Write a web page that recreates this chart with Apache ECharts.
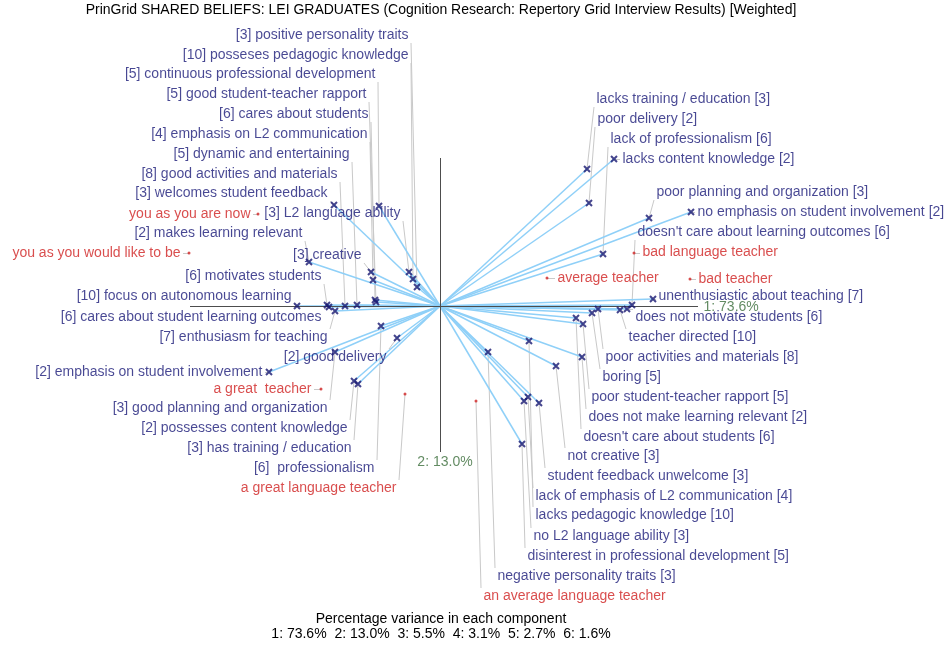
<!DOCTYPE html>
<html>
<head>
<meta charset="utf-8">
<script src="https://cdn.jsdelivr.net/npm/echarts@6/dist/echarts.min.js"></script>
<style>
html, body { margin: 0; padding: 0; background: #ffffff; }
#chart { width: 952px; height: 648px; }
</style>
</head>
<body>
<div id="chart"></div>
<script>
// ---- Repertory grid principal components: construct poles and elements ----
const leftPoles = [
  '[3] positive personality traits',
  '[10] posseses pedagogic knowledge',
  '[5] continuous professional development',
  '[5] good student-teacher rapport',
  '[6] cares about students',
  '[4] emphasis on L2 communication',
  '[5] dynamic and entertaining',
  '[8] good activities and materials',
  '[3] welcomes student feedback',
  '[3] L2 language ability',
  '[2] makes learning relevant',
  '[3] creative',
  '[6] motivates students',
  '[10] focus on autonomous learning',
  '[6] cares about student learning outcomes',
  '[7] enthusiasm for teaching',
  '[2] good delivery',
  '[2] emphasis on student involvement',
  '[3] good planning and organization',
  '[2] possesses content knowledge',
  '[3] has training / education',
  '[6]  professionalism'
];
const leftX = [-0.23, -0.27, -0.61, -0.64, -0.65, -0.67, -0.83, -0.95, -1.06, -0.31, -1.31,
               -0.69, -1.13, -1.43, -1.11, -1.05, -0.43, -1.71, -1.05, -0.86, -0.82, -0.59];
const leftY = [0.19, 0.27, 1.00, 0.04, 0.06, 0.26, 0.01, 0.00, 1.01, 0.34, 0.44,
               0.34, 0.01, 0.00, -0.01, -0.05, -0.32, -0.66, -0.46, -0.75, -0.78, -0.20];

const rightPoles = [
  'lacks training / education [3]',
  'poor delivery [2]',
  'lack of professionalism [6]',
  'lacks content knowledge [2]',
  'poor planning and organization [3]',
  'no emphasis on student involvement [2]',
  "doesn't care about learning outcomes [6]",
  'unenthusiastic about teaching [7]',
  'does not motivate students [6]',
  'teacher directed [10]',
  'poor activities and materials [8]',
  'boring [5]',
  'poor student-teacher rapport [5]',
  'does not make learning relevant [2]',
  "doesn't care about students [6]",
  'not creative [3]',
  'student feedback unwelcome [3]',
  'lack of emphasis of L2 communication [4]',
  'lacks pedagogic knowledge [10]',
  'no L2 language ability [3]',
  'disinterest in professional development [5]',
  'negative personality traits [3]'
];
const rightX = [1.47, 1.49, 1.63, 1.74, 2.09, 2.51, 1.92, 2.13, 1.87, 1.80, 1.58,
                1.52, 1.43, 1.42, 1.36, 1.16, 0.99, 0.88, 0.89, 0.84, 0.82, 0.48];
const rightY = [1.37, 1.03, 0.52, 1.47, 0.88, 0.94, 0.01, 0.07, -0.03, -0.04, -0.03,
                -0.07, -0.18, -0.51, -0.12, -0.60, -0.97, -0.91, -0.35, -0.95, -1.38, -0.46];

const elements = [
  'you as you are now',
  'you as you would like to be',
  'a great  teacher',
  'a great language teacher',
  'average teacher',
  'bad language teacher',
  'bad teacher',
  'an average language teacher'
];
const elementX = [-1.82, -2.51, -1.19, -0.35, 1.07, 1.94, 2.50, 0.36];
const elementY = [0.92, 0.53, -0.83, -0.88, 0.28, 0.53, 0.27, -0.95];

const componentVariance = [73.6, 13.0, 5.5, 3.1, 2.7, 1.6];

const titleText = 'PrinGrid SHARED BELIEFS: LEI GRADUATES (Cognition Research: Repertory Grid Interview Results) [Weighted]';
const varianceHeading = 'Percentage variance in each component';

// ---- Label placement (plot units) ----
const leftLabelX = [-0.31, -0.31, -0.64, -0.73, -0.71, -0.72, -0.90, -1.02, -1.12, -0.39, -1.37,
                    -0.78, -1.18, -1.48, -1.18, -1.12, -0.53, -1.77, -1.12, -0.92, -0.88, -0.65];
const leftLabelY = [2.71, 2.51, 2.32, 2.12, 1.92, 1.72, 1.52, 1.32, 1.13, 0.93, 0.73,
                    0.51, 0.30, 0.10, -0.11, -0.31, -0.51, -0.66, -1.02, -1.22, -1.42, -1.62];
const rightLabelX = [1.56, 1.57, 1.70, 1.82, 2.16, 2.57, 1.97, 2.18, 1.95, 1.88, 1.65,
                     1.62, 1.51, 1.48, 1.43, 1.27, 1.07, 0.95, 0.95, 0.93, 0.87, 0.57];
const rightLabelY = [2.07, 1.87, 1.67, 1.47, 1.14, 0.94, 0.74, 0.10, -0.11, -0.31, -0.51,
                     -0.71, -0.91, -1.11, -1.31, -1.50, -1.70, -1.90, -2.09, -2.30, -2.50, -2.70];
const elementLabelX = [-1.89, -2.59, -1.28, -0.43, 1.17, 2.02, 2.58, 0.43];
const elementLabelY = [0.92, 0.53, -0.83, -1.82, 0.28, 0.54, 0.27, -2.90];
const elementLabelSide = [-1, -1, -1, -1, 1, 1, 1, 1];

// plot window and drawn extent of the two component axes
const X_MIN = -4.40, X_MAX = 5.12, Y_MIN = -3.42, Y_MAX = 3.06;
const AXIS1 = [-2.50, 2.58];
const AXIS2 = [-1.46, 1.48];

const NAVY = '#1a1a78';
const RED = '#d02222';
const GREEN = '#3b6e3b';
const FONT = "'Liberation Sans', Arial, sans-serif";

const chart = echarts.init(document.getElementById('chart'), null, { renderer: 'canvas' });
const unit = (X_MAX - X_MIN) / 952;   // plot units per pixel

function clamp(v, lo, hi) { return Math.max(lo, Math.min(hi, v)); }

// leader from the label edge to its mark
function leader(lx, ly, side, mx, my) {
  const sx = lx + side * 2 * unit;
  const sy = ly + clamp(my - ly, -8 * unit, 8 * unit);
  return { coords: [[sx, sy], [mx, my]] };
}

const leaders = [];
const vectors = [];
const markers = [];
const labels = [];

leftPoles.forEach((n, i) => {
  leaders.push(leader(leftLabelX[i], leftLabelY[i], 1, leftX[i], leftY[i]));
  vectors.push({ coords: [[0, 0], [leftX[i], leftY[i]]] });
  markers.push([leftX[i], leftY[i]]);
  labels.push({ name: n, value: [leftLabelX[i], leftLabelY[i]], label: { position: 'left', color: NAVY } });
});
rightPoles.forEach((n, i) => {
  leaders.push(leader(rightLabelX[i], rightLabelY[i], -1, rightX[i], rightY[i]));
  vectors.push({ coords: [[0, 0], [rightX[i], rightY[i]]] });
  markers.push([rightX[i], rightY[i]]);
  labels.push({ name: n, value: [rightLabelX[i], rightLabelY[i]], label: { position: 'right', color: NAVY } });
});
elements.forEach((n, i) => {
  const s = elementLabelSide[i];
  leaders.push(leader(elementLabelX[i], elementLabelY[i], -s, elementX[i], elementY[i]));
  labels.push({ name: n, value: [elementLabelX[i], elementLabelY[i]],
                label: { position: s < 0 ? 'left' : 'right', color: RED } });
});

const compLabel = k => (k + 1) + ': ' + componentVariance[k].toFixed(1) + '%';
labels.push({ name: compLabel(0), value: [AXIS1[1] + 5 * unit, -1 * unit],
              label: { position: 'right', color: GREEN } });
labels.push({ name: compLabel(1), value: [5 * unit, AXIS2[0] - 10 * unit],
              label: { position: 'inside', color: GREEN } });

const option = {
  animation: false,
  backgroundColor: '#ffffff',
  grid: { left: 0, right: 0, top: 0, bottom: 0 },
  xAxis: { type: 'value', min: X_MIN, max: X_MAX, show: false, splitLine: { show: false } },
  yAxis: { type: 'value', min: Y_MIN, max: Y_MAX, show: false, splitLine: { show: false } },
  graphic: [
    {
      type: 'text', x: 441, y: 3,
      style: { text: titleText, font: '14px ' + FONT, fill: '#000000', align: 'center' }
    },
    {
      type: 'text', x: 441, y: 612,
      style: {
        text: varianceHeading + '\n' +
              componentVariance.map((v, k) => compLabel(k)).join('  '),
        font: '14px ' + FONT, fill: '#000000', align: 'center', lineHeight: 15
      }
    }
  ],
  series: [
    {
      type: 'lines', coordinateSystem: 'cartesian2d', silent: true, z: 1,
      lineStyle: { color: '#c9c9c9', width: 1, opacity: 1 },
      data: leaders
    },
    {
      type: 'lines', coordinateSystem: 'cartesian2d', silent: true, z: 2,
      lineStyle: { color: '#8fd0f8', width: 1.5, opacity: 1 },
      data: vectors
    },
    {
      type: 'lines', coordinateSystem: 'cartesian2d', silent: true, z: 3,
      lineStyle: { color: '#4d4d4d', width: 1, opacity: 1 },
      data: [
        { coords: [[AXIS1[0], 0], [AXIS1[1], 0]] },
        { coords: [[0, AXIS2[0]], [0, AXIS2[1]]] }
      ]
    },
    {
      type: 'scatter', silent: true, z: 4,
      symbol: 'path://M0,0L10,10M10,0L0,10', symbolSize: 6,
      itemStyle: { color: 'rgba(0,0,0,0)', borderColor: '#161670', borderWidth: 2 },
      data: markers
    },
    {
      type: 'scatter', silent: true, z: 4,
      symbol: 'circle', symbolSize: 3,
      itemStyle: { color: RED },
      data: elementX.map((x, i) => [x, elementY[i]])
    },
    {
      type: 'scatter', silent: true, z: 5,
      symbolSize: 1,
      itemStyle: { color: 'rgba(0,0,0,0)' },
      label: { show: true, distance: 0, fontSize: 14, fontFamily: FONT, formatter: p => p.name },
      labelLayout: { hideOverlap: false },
      data: labels
    }
  ]
};

chart.setOption(option);
</script>
</body>
</html>
